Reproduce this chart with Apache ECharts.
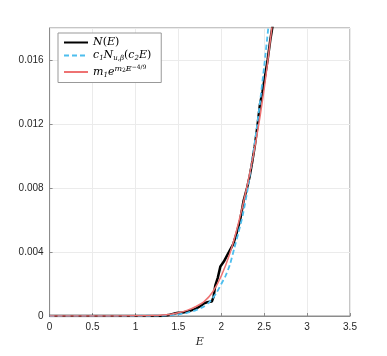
<!DOCTYPE html>
<html>
<head>
<meta charset="utf-8">
<script src="https://cdn.jsdelivr.net/npm/echarts@6/dist/echarts.min.js"></script>
<style>
  html, body { margin: 0; padding: 0; background: #fff; }
  #chart { width: 387px; height: 356px; }
</style>
</head>
<body>
<div id="chart"></div>
<script>
// N(E) empirical
const nE = [0, 1.30, 1.35, 1.40, 1.45, 1.50, 1.55, 1.60, 1.65, 1.70, 1.75, 1.80, 1.85, 1.89, 1.91, 1.93, 1.96, 1.99, 2.03, 2.07, 2.10, 2.14, 2.18, 2.22, 2.26, 2.30, 2.33, 2.36, 2.39, 2.42, 2.45, 2.48, 2.51, 2.54, 2.57, 2.60, 2.63];
const nVal = [0, 0, 0.00003, 0.00008, 0.00015, 0.0002, 0.00022, 0.00027, 0.00035, 0.00045, 0.0006, 0.0008, 0.00088, 0.0009, 0.0012, 0.0019, 0.0024, 0.0031, 0.0034, 0.0038, 0.0041, 0.0045, 0.0052, 0.0060, 0.0072, 0.0080, 0.0087, 0.0096, 0.0106, 0.0118, 0.0132, 0.0140, 0.0150, 0.0160, 0.0172, 0.0182, 0.0195];

// c1 N_{u,beta}(c2 E)
const cE = [0, 1.3, 1.4, 1.5, 1.6, 1.7, 1.8, 1.85, 1.9, 1.95, 2.0, 2.05, 2.1, 2.15, 2.2, 2.25, 2.3, 2.35, 2.4, 2.45, 2.5, 2.55, 2.6];
const cVal = [0, 0.00002, 0.00005, 0.0001, 0.0002, 0.00035, 0.0006, 0.0008, 0.0011, 0.0015, 0.0020, 0.0025, 0.0032, 0.0042, 0.0052, 0.0063, 0.0077, 0.0094, 0.0112, 0.0133, 0.0156, 0.0181, 0.0205];

// m1 e^{m2 E^...} fit
const mE = [0, 0.5, 1.0, 1.2, 1.4, 1.5, 1.6, 1.7, 1.8, 1.9, 2.0, 2.1, 2.2, 2.3, 2.4, 2.5, 2.6];
const mVal = [0, 0, 0.00001, 0.00003, 0.0001, 0.0002, 0.00035, 0.00058, 0.0009, 0.0015, 0.0025, 0.0039, 0.0058, 0.0081, 0.0108, 0.0142, 0.0185];

const xTicks = [0, 0.5, 1, 1.5, 2, 2.5, 3, 3.5];
const yTicks = [0, 0.004, 0.008, 0.012, 0.016];

const pairs = (xs, ys) => xs.map((x, i) => [x, ys[i]]);

const legendText = {
  'N': '{i|N}{n|(}{i|E}{n|)}',
  'C': '{i|c}{s|1}{i|N}{s|u,β}{n|(}{i|c}{s|2}{i|E}{n|)}',
  'M': '{i|m}{s|1}{i|e}{p|m}{ps|2}{p|E}{pp|−4/9}'
};

const chart = echarts.init(document.getElementById('chart'));
const axisColor = '#8c8c8c';
const labelColor = '#262626';

chart.setOption({
  animation: false,
  grid: {
    left: 49.6, right: 37, top: 28, bottom: 40,
    show: true, borderColor: axisColor, borderWidth: 1
  },
  legend: {
    orient: 'vertical',
    left: 58, top: 33,
    padding: [4, 10, 4, 5],
    itemGap: 2,
    itemWidth: 24, itemHeight: 10,
    backgroundColor: '#fff',
    borderColor: '#999', borderWidth: 1,
    itemStyle: { opacity: 0 },
    data: ['N', 'C', 'M'],
    formatter: name => legendText[name],
    textStyle: {
      color: '#000',
      rich: {
        i: { fontFamily: 'DejaVu Serif', fontStyle: 'italic', fontSize: 11 },
        n: { fontFamily: 'DejaVu Serif', fontSize: 11 },
        s: { fontFamily: 'DejaVu Serif', fontStyle: 'italic', fontSize: 7, padding: [6, 0, 0, 0] },
        p: { fontFamily: 'DejaVu Serif', fontStyle: 'italic', fontSize: 8, padding: [0, 0, 6, 0] },
        ps: { fontFamily: 'DejaVu Serif', fontSize: 6, padding: [0, 0, 3, 0] },
        pp: { fontFamily: 'DejaVu Serif', fontSize: 6, padding: [0, 0, 10, 0] }
      }
    }
  },
  xAxis: {
    type: 'value',
    min: 0, max: 3.5, interval: 0.5,
    name: 'E',
    nameLocation: 'middle',
    nameGap: 19,
    nameTextStyle: { fontFamily: 'DejaVu Serif', fontStyle: 'italic', fontSize: 11, color: labelColor },
    axisLine: { lineStyle: { color: axisColor } },
    axisTick: { inside: true, length: 3, lineStyle: { color: axisColor } },
    axisLabel: {
      color: labelColor, fontSize: 10, fontFamily: 'Liberation Sans', margin: 6,
      formatter: v => xTicks.includes(v) ? String(v) : ''
    },
    splitLine: { show: true, lineStyle: { color: '#ebebeb' } }
  },
  yAxis: {
    type: 'value',
    min: 0, max: 0.018, interval: 0.004,
    axisLine: { show: true, lineStyle: { color: axisColor } },
    axisTick: { show: true, inside: true, length: 3, lineStyle: { color: axisColor } },
    axisLabel: {
      color: labelColor, fontSize: 10, fontFamily: 'Liberation Sans', margin: 6,
      showMaxLabel: false,
      formatter: v => {
        const t = yTicks.find(y => Math.abs(y - v) < 1e-9);
        return t === undefined ? '' : String(t);
      }
    },
    splitLine: { show: true, lineStyle: { color: '#ebebeb' } }
  },
  series: [
    {
      name: 'N', type: 'line', data: pairs(nE, nVal),
      showSymbol: false, symbol: 'none', clip: true, z: 3,
      lineStyle: { color: '#000', width: 2.5 },
      itemStyle: { color: '#000' }
    },
    {
      name: 'C', type: 'line', data: pairs(cE, cVal),
      showSymbol: false, symbol: 'none', clip: true, z: 4, smooth: 0.2,
      lineStyle: { color: '#4DBEEE', width: 1.8, type: [5, 3] },
      itemStyle: { color: '#4DBEEE' }
    },
    {
      name: 'M', type: 'line', data: pairs(mE, mVal),
      showSymbol: false, symbol: 'none', clip: true, z: 5, smooth: 0.3,
      lineStyle: { color: '#EE7272', width: 1.5 },
      itemStyle: { color: '#EE7272' }
    }
  ]
});
</script>
</body>
</html>
